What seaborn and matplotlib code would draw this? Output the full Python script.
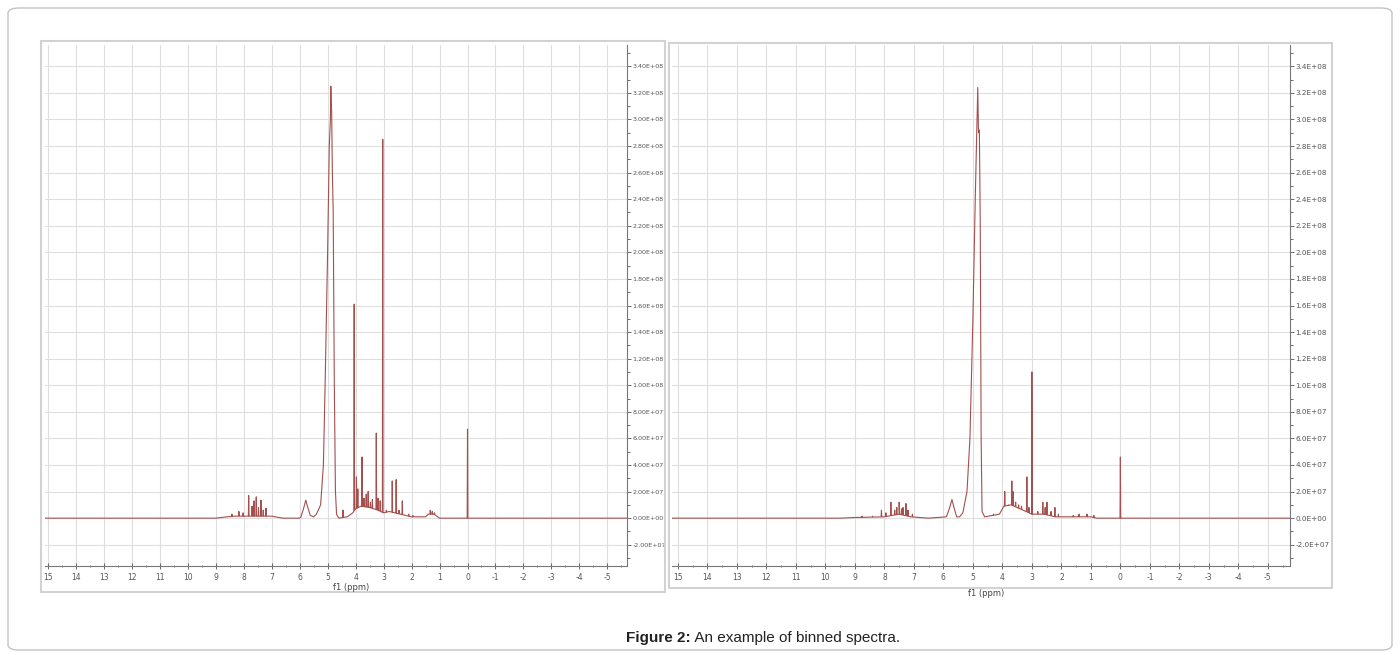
import numpy as np
import pandas as pd
import seaborn as sns
import matplotlib.pyplot as plt
from matplotlib.patches import Rectangle, FancyBboxPatch
from matplotlib.ticker import MultipleLocator, FuncFormatter

sns.set_style("white")
plt.rcParams["font.family"] = ["DejaVu Sans"]

# ---- left spectrum ----
left_broad_ppm = [15.1, 9.0, 8.6, 8.3, 7.0, 6.6, 6.0, 5.95, 5.85, 5.78, 5.72, 5.62, 5.5,
                  5.4, 5.25, 5.15, 5.08, 5.0, 4.94, 4.9, 4.885, 4.87, 4.855, 4.83, 4.8,
                  4.76, 4.72, 4.68, 4.6, 4.3, 4.1, 4.0, 3.8, 3.5, 3.2, 3.0, 2.8, 2.2, 2.0,
                  1.5, 1.4, 1.2, 1.0, -5.7]
left_broad_int = [0, 0, 1e6, 1.5e6, 1.5e6, 0, 0, 1e6, 8e6, 1.35e7, 9e6, 2e6, 1e6,
                  3e6, 1e7, 4e7, 1.1e8, 2e8, 2.8e8, 3.0e8, 3.25e8, 3.12e8, 3.06e8, 2.6e8, 2.3e8,
                  1e8, 2e7, 3e6, 0, 1e6, 4e6, 7e6, 9e6, 8e6, 6e6, 4e6, 5e6, 2e6, 1e6,
                  1e6, 3e6, 3e6, 0, 0]
left_peak_ppm = [8.42, 8.17, 8.02, 7.82, 7.7, 7.63, 7.55, 7.47, 7.38, 7.3, 7.2, 4.45,
                 4.05, 3.97, 3.92, 3.77, 3.7, 3.62, 3.55, 3.47, 3.4, 3.26, 3.2, 3.12,
                 3.03, 2.9, 2.69, 2.55, 2.45, 2.33, 2.1, 1.95, 1.33, 1.26, 1.18, 0.0]
left_peak_int = [3e6, 5e6, 4e6, 1.7e7, 9e6, 1.3e7, 1.6e7, 8e6, 1.35e7, 6e6, 7.5e6, 6e6,
                 1.61e8, 3.1e7, 2.2e7, 4.6e7, 1.5e7, 1.8e7, 2.0e7, 1.2e7, 1.4e7, 6.4e7, 1.5e7, 1.3e7,
                 2.85e8, 6e6, 2.8e7, 2.9e7, 6e6, 1.3e7, 3e6, 2e6, 6e6, 5e6, 4e6, 6.7e7]

# ---- right spectrum ----
right_broad_ppm = [15.2, 9.5, 9.0, 8.0, 7.5, 7.1, 6.5, 5.9, 5.8, 5.71, 5.64, 5.55,
                   5.45, 5.34, 5.2, 5.1, 5.0, 4.92, 4.86, 4.835, 4.81, 4.78, 4.75, 4.72,
                   4.69, 4.6, 4.1, 3.95, 3.7, 3.4, 3.2, 3.0, 2.6, 2.2, 1.5, 1.0, 0.8, -5.8]
right_broad_int = [0, 0, 5e5, 1e6, 3e6, 1e6, 0, 1e6, 7e6, 1.4e7, 8e6, 1e6,
                   1e6, 4e6, 2e7, 6e7, 1.5e8, 2.4e8, 3.0e8, 3.24e8, 2.9e8, 2.92e8, 2.2e8, 6e7,
                   5e6, 1e6, 3e6, 9e6, 1e7, 7e6, 5e6, 3e6, 3e6, 1e6, 1e6, 1e6, 0, 0]
right_peak_ppm = [8.76, 8.4, 8.1, 7.95, 7.78, 7.65, 7.58, 7.5, 7.42, 7.37, 7.27, 7.2, 7.05,
                  4.3, 3.92, 3.8, 3.68, 3.64, 3.55, 3.45, 3.35, 3.17, 3.1, 3.0, 2.8,
                  2.63, 2.55, 2.49, 2.35, 2.22, 2.1, 1.6, 1.4, 1.13, 0.9, 0.0]
right_peak_int = [1.5e6, 1.5e6, 6e6, 4e6, 1.2e7, 6e6, 8e6, 1.2e7, 7e6, 8e6, 1.1e7, 6e6, 3e6,
                  3e6, 2.0e7, 1.0e7, 2.8e7, 2.0e7, 1.2e7, 1.0e7, 9e6, 3.1e7, 8e6, 1.1e8, 5e6,
                  1.2e7, 8e6, 1.2e7, 5e6, 8e6, 3e6, 2e6, 3e6, 3e6, 2e6, 4.6e7]

x_ticks = list(range(15, -6, -1))
caption_bold = "Figure 2:"
caption_text = " An example of binned spectra."


def build(broad_ppm, broad_int, pk_ppm, pk_int, w=0.012):
    bx = np.array(broad_ppm)[::-1]
    by = np.array(broad_int, dtype=float)[::-1]
    pts = list(zip(broad_ppm, broad_int))
    for p, h in zip(pk_ppm, pk_int):
        pts.append((p + w, np.interp(p + w, bx, by)))
        pts.append((p, h))
        pts.append((p - w, np.interp(p - w, bx, by)))
    pts.sort(key=lambda t: -t[0])
    return pd.DataFrame(pts, columns=["ppm", "intensity"])


W, H = 1400, 658
fig = plt.figure(figsize=(W / 100, H / 100), dpi=100)

# outer rounded border and panel frames
fig.patches.append(FancyBboxPatch((8 / W, 8 / H), 1384 / W, 642 / H,
                                  boxstyle="round,pad=0,rounding_size=0.008",
                                  transform=fig.transFigure, fill=False,
                                  edgecolor="#c4c4c4", lw=1))
for (x0, y0, x1, y1) in [(41, 41, 665, 592), (669, 43, 1332, 588)]:
    fig.patches.append(Rectangle((x0 / W, 1 - y1 / H), (x1 - x0) / W, (y1 - y0) / H,
                                 transform=fig.transFigure, fill=False,
                                 edgecolor="#d2d2d2", lw=1.5))

panels = [
    (build(left_broad_ppm, left_broad_int, left_peak_ppm, left_peak_int),
     [45, 45, 627, 566], (15.1, -5.7), "{:.2E}", (333, 588), 4.6),
    (build(right_broad_ppm, right_broad_int, right_peak_ppm, right_peak_int),
     [672, 45, 1290, 566], (15.2, -5.75), "{:.1E}", (968, 593), 5.2),
]

for df, (x0, y0, x1, y1), xlim, fmt, lab, ysize in panels:
    ax = fig.add_axes([x0 / W, 1 - y1 / H, (x1 - x0) / W, (y1 - y0) / H])
    sns.lineplot(data=df, x="ppm", y="intensity", sort=False, estimator=None,
                 color="#a3504e", lw=0.8, ax=ax)
    ax.set_xlim(*xlim)
    ax.set_ylim(-3.6e7, 3.56e8)
    ax.set_xticks(x_ticks)
    ax.set_xticklabels([str(t) for t in x_ticks])
    ax.xaxis.set_minor_locator(MultipleLocator(0.5))
    ax.yaxis.set_major_locator(MultipleLocator(2e7))
    ax.yaxis.set_minor_locator(MultipleLocator(1e7))
    ax.yaxis.set_major_formatter(FuncFormatter(lambda v, _, f=fmt: f.format(v)))
    ax.yaxis.tick_right()
    ax.grid(True, which="major", color="#dedede", lw=0.8)
    ax.set_xlabel("")
    ax.set_ylabel("")
    for s in ["top", "left"]:
        ax.spines[s].set_visible(False)
    for s in ["right", "bottom"]:
        ax.spines[s].set_color("#777777")
        ax.spines[s].set_linewidth(0.8)
    ax.tick_params(axis="y", which="both", right=True, left=False, direction="out",
                   length=3, width=0.6, colors="#555555", labelsize=ysize, pad=1)
    ax.tick_params(axis="y", which="minor", length=2)
    ax.tick_params(axis="x", which="both", bottom=True, direction="inout",
                   length=4, width=0.6, colors="#555555", labelsize=5.5, pad=3)
    ax.tick_params(axis="x", which="minor", length=2)
    fig.text(lab[0] / W, 1 - lab[1] / H, "f1 (ppm)", fontsize=6, color="#444444",
             ha="left", va="center")

cap_x = 691 / W
fig.text(cap_x, 1 - 638 / H, caption_bold, fontsize=11, weight="bold",
         family="Liberation Sans", ha="right", va="center", color="#222222")
fig.text(cap_x, 1 - 638 / H, caption_text, fontsize=11, family="Liberation Sans",
         ha="left", va="center", color="#222222")

fig.savefig("out.png", dpi=100)
